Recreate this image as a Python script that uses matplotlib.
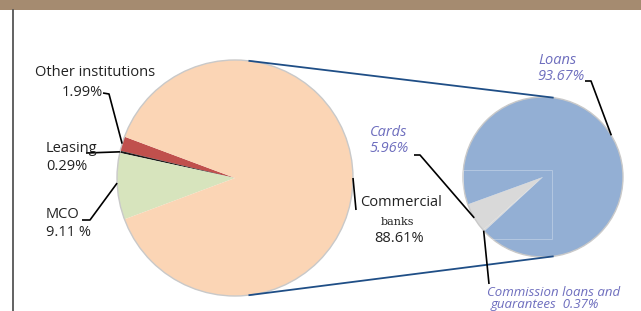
import numpy as np
import matplotlib.pyplot as plt
from matplotlib.patches import Rectangle

# left pie: structure by institution type
left_names = ['Other institutions', 'Leasing', 'MCO', 'Commercial banks']
left_vals = [1.99, 0.29, 9.11, 88.61]
left_colors = ['#C0504D', '#1a1a1a', '#D7E4BD', '#FBD5B5']

# right pie: breakdown of the commercial banks part
right_names = ['Cards', 'Commission loans and guarantees', 'Loans']
right_vals = [5.96, 0.37, 93.67]
right_colors = ['#D9D9D9', '#D9D9D9', '#93AFD4']

H = 311
fig = plt.figure(figsize=(6.41, 3.11), dpi=100)
ax = fig.add_axes([0, 0, 1, 1])
plt.rcParams['font.family'] = ['Open Sans', 'DejaVu Sans']

lc, lr = (235, H - 178), 118
rc, rr = (543, H - 177), 80

lw, _ = ax.pie(left_vals, colors=left_colors, startangle=159.5, center=lc, radius=lr,
               wedgeprops=dict(linewidth=0))
rw, _ = ax.pie(right_vals, colors=right_colors, startangle=200, center=rc, radius=rr,
               wedgeprops=dict(linewidth=0))
# soft outline of both pies
for c, r in [(lc, lr), (rc, rr)]:
    ax.add_patch(plt.Circle(c, r, fill=False, ec='#c9c9c9', lw=1.0))

ax.add_patch(Rectangle((463, H - 239), 89, 69, fill=False, ec='white', lw=0.7, alpha=0.3))

# connecting lines between the pies
for a in (83, -83):
    t = np.deg2rad(a)
    ax.plot([lc[0] + lr * np.cos(t), rc[0] + rr * np.cos(t)],
            [lc[1] + lr * np.sin(t), rc[1] + rr * np.sin(t)], color='#1F4E86', lw=1.3)

def edge(w, c, r, frac=0.5):
    a = np.deg2rad(w.theta1 + frac * (w.theta2 - w.theta1))
    return c[0] + r * np.cos(a), c[1] + r * np.sin(a)

def leader(pts, end):
    xs = [p[0] for p in pts] + [end[0]]
    ys = [H - p[1] for p in pts] + [end[1]]
    ax.plot(xs, ys, color='black', lw=1.2, solid_capstyle='butt')

leader([(103, 93), (109, 94)], edge(lw[0], lc, lr))
leader([(86, 153)], edge(lw[1], lc, lr))
leader([(82, 220), (90, 220)], edge(lw[2], lc, lr, 0.45))
leader([(356, 210)], edge(lw[3], lc, lr))
leader([(414, 155), (420, 155)], edge(rw[0], rc, rr))
leader([(489, 284)], edge(rw[1], rc, rr))
leader([(585, 81), (591, 81)], edge(rw[2], rc, rr))

fs = 10.5
blk = '#222222'
pur = '#6E6EBE'
def txt(x, y, s, ha='left', **kw):
    kw.setdefault('color', blk)
    kw.setdefault('fontsize', fs)
    ax.text(x, H - y, s, ha=ha, va='center', **kw)

txt(95, 72, left_names[0], ha='center')
txt(103, 92, f'{left_vals[0]:.2f}%', ha='right')
txt(46, 149, left_names[1])
txt(46, 166, f'{left_vals[1]:.2f}%')
txt(46, 215, left_names[2])
txt(46, 232, f'{left_vals[2]:.2f} %')
txt(360, 203, 'Commercial')
txt(397, 222, 'banks', ha='center', family='DejaVu Serif', fontsize=8)
txt(399, 239, f'{left_vals[3]:.2f}%', ha='center')

txt(557, 60, right_names[2], ha='center', color=pur, style='italic')
txt(561, 77, f'{right_vals[2]:.2f}%', ha='center', color=pur, style='italic')
txt(389, 132, right_names[0], ha='center', color=pur, style='italic')
txt(389, 149, f'{right_vals[0]:.2f}%', ha='center', color=pur, style='italic')
txt(487, 292, 'Commission loans and', color=pur, style='italic', fontsize=9.5)
txt(491, 304.5, f'guarantees  {right_vals[1]:.2f}%', color=pur, style='italic', fontsize=9.5)

# frame: brown header band and left rule
ax.add_patch(Rectangle((0, H - 10), 641, 10, color='#A58B70', lw=0))
ax.plot([12.5, 12.5], [0, H - 10], color='#555555', lw=1.3)

ax.set_xlim(0, 641)
ax.set_ylim(0, H)
ax.set_aspect('equal')
ax.axis('off')
fig.savefig('out.png', dpi=100)
